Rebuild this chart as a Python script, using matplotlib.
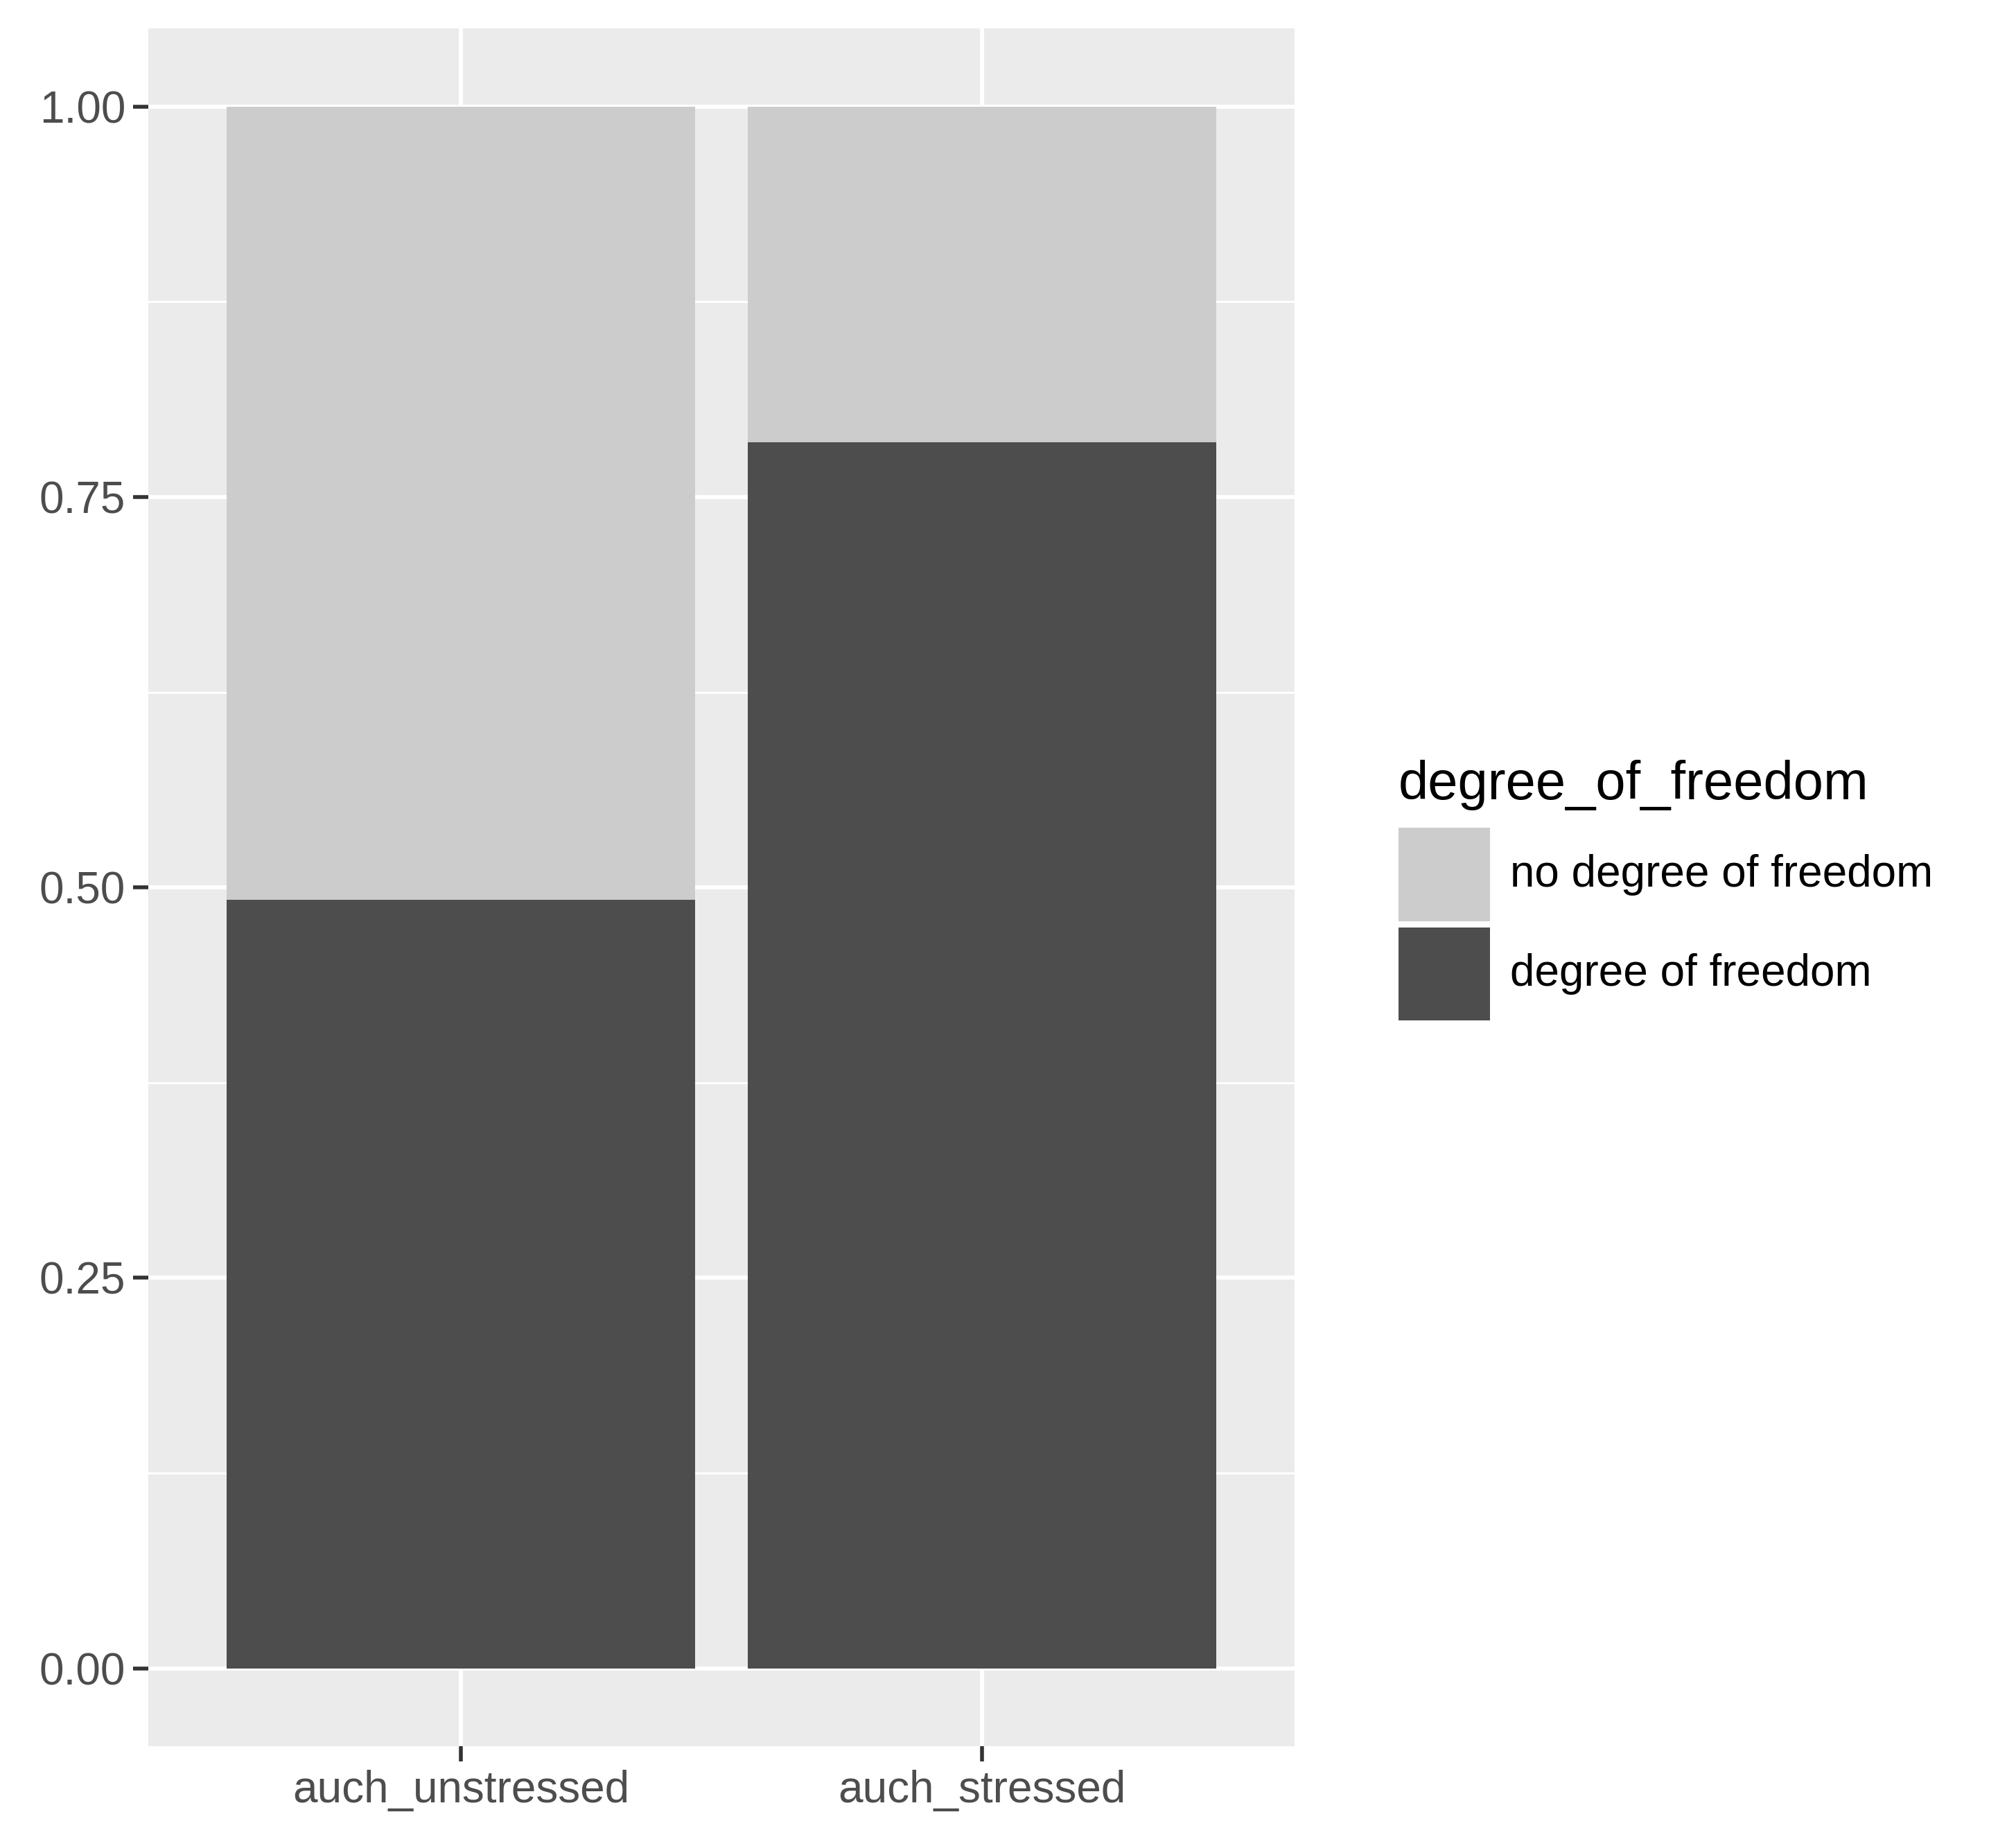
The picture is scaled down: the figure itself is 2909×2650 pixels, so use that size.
import matplotlib
matplotlib.use("Agg")
import matplotlib.pyplot as plt
from matplotlib.patches import Rectangle

categories = ["auch_unstressed", "auch_stressed"]
freedom = [0.492, 0.785]
no_freedom = [1 - v for v in freedom]
legend_labels = ["no degree of freedom", "degree of freedom"]
colors = ["#CCCCCC", "#4D4D4D"]
yticks = [0.00, 0.25, 0.50, 0.75, 1.00]

plt.rcParams['font.family'] = ['Liberation Sans', 'DejaVu Sans']
fig = plt.figure(figsize=(29.09, 26.5), dpi=100)
ax = fig.add_axes([0.0737, 0.0493, 0.642 - 0.0737, 0.9845 - 0.0493])
ax.set_facecolor("#EBEBEB")
x = list(range(len(categories)))
ax.bar(x, freedom, width=0.9, color=colors[1], zorder=3)
ax.bar(x, no_freedom, bottom=freedom, width=0.9, color=colors[0], zorder=3)
ax.set_xlim(-0.6, 1.6)
ax.set_ylim(-0.05, 1.05)
ax.set_xticks(x)
ax.set_xticklabels(categories)
ax.set_yticks(yticks)
ax.set_yticklabels([f"{v:.2f}" for v in yticks])
ax.set_yticks([0.125, 0.375, 0.625, 0.875], minor=True)
ax.grid(True, which="major", color="white", linewidth=4.2, zorder=1)
ax.grid(True, which="minor", axis="y", color="white", linewidth=2.1, zorder=1)
ax.tick_params(which="major", length=16, width=4, color="#333333",
               labelsize=46, labelcolor="#4D4D4D", pad=8)
ax.tick_params(which="minor", length=0)
for s in ax.spines.values():
    s.set_visible(False)

fig.text(0.6936, 0.565, "degree_of_freedom", fontsize=56, color="black", va="baseline")
tops = [0.5493, 0.4951]
for lab, c, top in zip(legend_labels, colors, tops):
    fig.add_artist(Rectangle((0.6936, top - 0.0507), 0.0455, 0.0507,
                             transform=fig.transFigure, facecolor=c, edgecolor="none"))
    fig.text(0.749, top - 0.0507 / 2, lab, fontsize=46, color="black", va="center")

fig.savefig("out.png", dpi=100)
